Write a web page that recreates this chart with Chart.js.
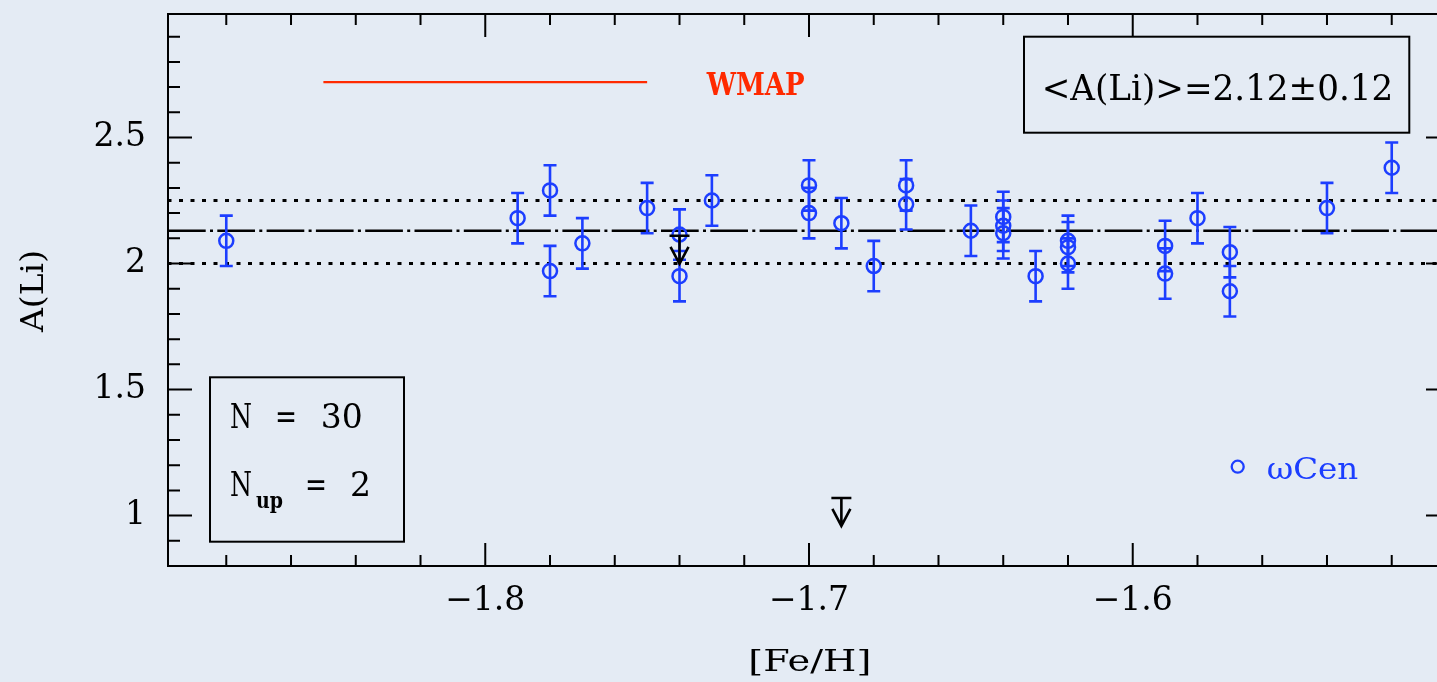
<!DOCTYPE html>
<html><head><meta charset="utf-8">
<script src="https://cdn.jsdelivr.net/npm/chart.js@4.4.0/dist/chart.umd.min.js"></script>
<style>
html,body{margin:0;padding:0;overflow:hidden;background:#e4ebf4;}
canvas{display:block;}
</style></head><body>
<canvas id="c" width="1460" height="682"></canvas>
<script>
// ---- data ----
const feh = [-1.88,-1.79,-1.78,-1.78,-1.77,-1.75,-1.74,-1.74,-1.73,-1.70,-1.70,-1.69,-1.68,-1.67,-1.67,-1.65,-1.64,-1.64,-1.64,-1.63,-1.62,-1.62,-1.62,-1.59,-1.59,-1.58,-1.57,-1.57,-1.54,-1.52];
const ali = [2.09,2.18,2.29,1.97,2.08,2.22,2.115,1.95,2.25,2.31,2.20,2.16,1.99,2.31,2.235,2.13,2.185,2.15,2.12,1.95,2.09,2.065,2.00,2.07,1.96,2.18,2.045,1.89,2.22,2.38];
const aliErr = [0.1,0.1,0.1,0.1,0.1,0.1,0.1,0.1,0.1,0.1,0.1,0.1,0.1,0.1,0.1,0.1,0.1,0.1,0.1,0.1,0.1,0.1,0.1,0.1,0.1,0.1,0.1,0.1,0.1,0.1];
const ulFeh = [-1.74,-1.69];
const ulAli = [2.11,1.07];
const meanAli = 2.13;
const sigmaLo = 2.00;
const sigmaHi = 2.25;
const wmapFeh = [-1.85,-1.75];
const wmapAli = 2.72;
const xRange = [-1.898,-1.502];
const yRange = [0.8,2.99];
const xMajorTicks = [-1.8,-1.7,-1.6];
const xTickLabels = ['\u22121.8','\u22121.7','\u22121.6'];
const xMinorStep = 0.02;
const yMajorTicks = [1,1.5,2,2.5];
const yTickLabels = ['1','1.5','2','2.5'];
const yMinorStep = 0.1;
const meanLabel = '<A(Li)>=2.12\u00b10.12';
const nLabel = ['N','=','30'];
const nUpLabel = ['N','up','=','2'];
const wmapLabel = 'WMAP';
const legendLabel = '\u03c9Cen';
const xTitle = '[Fe/H]';
const yTitle = 'A(Li)';

// ---- styles ----
const BG = '#e4ebf4';
const BLUE = 'rgb(28,62,255)';
const RED = '#ff2a00';
const FONT = '"DejaVu Serif", serif';

function fitText(ctx, text, x, y, width, size, color, weight) {
  ctx.save();
  ctx.font = (weight||'normal') + ' ' + size + 'px ' + FONT;
  ctx.fillStyle = color;
  ctx.textBaseline = 'alphabetic';
  ctx.textAlign = 'left';
  const w = ctx.measureText(text).width;
  ctx.translate(x, y);
  if (width) ctx.scale(width / w, 1);
  ctx.fillText(text, 0, 0);
  ctx.restore();
}

const custom = {
  id: 'custom',
  beforeDraw(chart) {
    const ctx = chart.ctx;
    ctx.save(); ctx.fillStyle = BG; ctx.fillRect(0,0,chart.width,chart.height); ctx.restore();
  },
  beforeDatasetDraw(chart, args) {
    if (args.index !== 0) return;
    const ctx = chart.ctx, xs = chart.scales.x, ys = chart.scales.y;
    ctx.save();
    ctx.strokeStyle = BLUE; ctx.lineWidth = 2.6; ctx.lineCap = 'butt';
    feh.forEach((f,i) => {
      const px = xs.getPixelForValue(f);
      const y1 = ys.getPixelForValue(ali[i] + aliErr[i]);
      const y0 = ys.getPixelForValue(ali[i] - aliErr[i]);
      ctx.beginPath();
      ctx.moveTo(px, y1); ctx.lineTo(px, y0);
      ctx.moveTo(px-6.5, y1); ctx.lineTo(px+6.5, y1);
      ctx.moveTo(px-6.5, y0); ctx.lineTo(px+6.5, y0);
      ctx.stroke();
    });
    ctx.restore();
  },
  afterDatasetsDraw(chart) {
    const ctx = chart.ctx, xs = chart.scales.x, ys = chart.scales.y;
    const {left, right, top, bottom} = chart.chartArea;
    ctx.save();
    // upper limits
    ctx.strokeStyle = '#000'; ctx.lineWidth = 2.6;
    ulFeh.forEach((f,i) => {
      const px = xs.getPixelForValue(f), py = ys.getPixelForValue(ulAli[i]);
      const L = 28;
      ctx.beginPath();
      ctx.moveTo(px-10, py); ctx.lineTo(px+10, py);
      ctx.moveTo(px, py); ctx.lineTo(px, py+L);
      ctx.moveTo(px-9, py+L-17); ctx.lineTo(px, py+L); ctx.lineTo(px+9, py+L-17);
      ctx.stroke();
    });
    // frame
    ctx.lineWidth = 2;
    ctx.strokeRect(left, top, right-left, bottom-top);
    // x ticks (inward, bottom and top)
    ctx.beginPath();
    for (let k = Math.ceil(xRange[0]/xMinorStep - 1e-9); k*xMinorStep <= xRange[1] + 1e-9; k++) {
      const v = k*xMinorStep;
      const major = xMajorTicks.some(m => Math.abs(m - v) < 1e-6);
      const len = major ? 23 : 11;
      const px = xs.getPixelForValue(v);
      ctx.moveTo(px, bottom); ctx.lineTo(px, bottom-len);
      ctx.moveTo(px, top); ctx.lineTo(px, top+len);
    }
    // y ticks (inward, left and right)
    for (let k = Math.ceil(yRange[0]/yMinorStep - 1e-9); k*yMinorStep <= yRange[1] + 1e-9; k++) {
      const v = k*yMinorStep;
      const major = yMajorTicks.some(m => Math.abs(m - v) < 1e-6);
      const len = major ? 24 : 12;
      const py = ys.getPixelForValue(v);
      ctx.moveTo(left, py); ctx.lineTo(left+len, py);
      ctx.moveTo(right, py); ctx.lineTo(right-len, py);
    }
    ctx.stroke();
    // mean box
    ctx.strokeRect(1024, 36.7, 385.3, 96);
    fitText(ctx, meanLabel, 1041.7, 100, 351.6, 35, '#000');
    // N box
    ctx.strokeRect(210, 377.3, 194, 164.4);
    fitText(ctx, nLabel[0], 230, 427.7, 22, 33, '#000');
    fitText(ctx, nLabel[1], 275, 427.7, 22, 33, '#000');
    fitText(ctx, nLabel[2], 320.7, 427.7, 42, 33, '#000');
    fitText(ctx, nUpLabel[0], 230, 496, 22, 33, '#000');
    fitText(ctx, nUpLabel[1], 256, 508, 27, 22, '#000', 'bold');
    fitText(ctx, nUpLabel[2], 305, 496, 22, 33, '#000');
    fitText(ctx, nUpLabel[3], 350, 496, 21, 33, '#000');
    // WMAP label
    fitText(ctx, wmapLabel, 706.7, 95, 98, 32, RED, 'bold');
    // legend
    ctx.strokeStyle = BLUE; ctx.lineWidth = 2.3;
    ctx.beginPath(); ctx.arc(1237.7, 466.7, 6, 0, Math.PI*2); ctx.stroke();
    fitText(ctx, legendLabel, 1266.7, 479, 91.6, 29, BLUE);
    // axis titles
    fitText(ctx, xTitle, 748.3, 670.7, 123, 30, '#000');
    ctx.save();
    ctx.translate(43, 332); ctx.rotate(-Math.PI/2);
    fitText(ctx, yTitle, 0, 0, 82, 31, '#000');
    ctx.restore();
    ctx.restore();
  }
};

const hline = (y) => [{x:xRange[0], y}, {x:xRange[1], y}];

new Chart(document.getElementById('c'), {
  type: 'scatter',
  data: {
    datasets: [
      { data: feh.map((x,i) => ({x, y: ali[i]})), pointStyle: 'circle', pointRadius: 7,
        pointBorderWidth: 2.5, pointBorderColor: BLUE, pointBackgroundColor: 'rgba(0,0,0,0)', showLine: false },
      { data: hline(meanAli), showLine: true, borderColor: '#000', borderWidth: 2.5,
        borderDash: [37.7,4.3,3,4.3], pointRadius: 0 },
      { data: hline(sigmaHi), showLine: true, borderColor: '#000', borderWidth: 3,
        borderDash: [4,7.5], borderDashOffset: 0.5, pointRadius: 0 },
      { data: hline(sigmaLo), showLine: true, borderColor: '#000', borderWidth: 3,
        borderDash: [4,7.5], borderDashOffset: 0.5, pointRadius: 0 },
      { data: wmapFeh.map(x => ({x, y: wmapAli})), showLine: true, borderColor: RED, borderWidth: 2.3, pointRadius: 0 }
    ]
  },
  options: {
    responsive: false, animation: false, devicePixelRatio: 1,
    layout: { padding: { top: 14, right: 10, left: 0, bottom: 0 } },
    plugins: { legend: { display: false }, tooltip: { enabled: false } },
    scales: {
      x: {
        type: 'linear', min: xRange[0], max: xRange[1],
        afterBuildTicks: (ax) => { ax.ticks = xMajorTicks.map(v => ({value: v})); },
        afterFit: (ax) => { ax.height = 116; ax.paddingLeft = 0; ax.paddingRight = 0; },
        ticks: { callback: (v, i) => xTickLabels[i], font: { family: FONT, size: 33 }, color: '#000',
                 padding: 16, maxRotation: 0, autoSkip: false },
        grid: { display: false, drawTicks: false }, border: { display: false }
      },
      y: {
        type: 'linear', min: yRange[0], max: yRange[1],
        afterBuildTicks: (ax) => { ax.ticks = yMajorTicks.map(v => ({value: v})); },
        afterFit: (ax) => { ax.width = 168; ax.paddingTop = 0; ax.paddingBottom = 0; },
        ticks: { callback: (v, i) => yTickLabels[i], font: { family: FONT, size: 33 }, color: '#000',
                 padding: 22, autoSkip: false },
        grid: { display: false, drawTicks: false }, border: { display: false }
      }
    }
  },
  plugins: [custom]
});
</script>
</body></html>
